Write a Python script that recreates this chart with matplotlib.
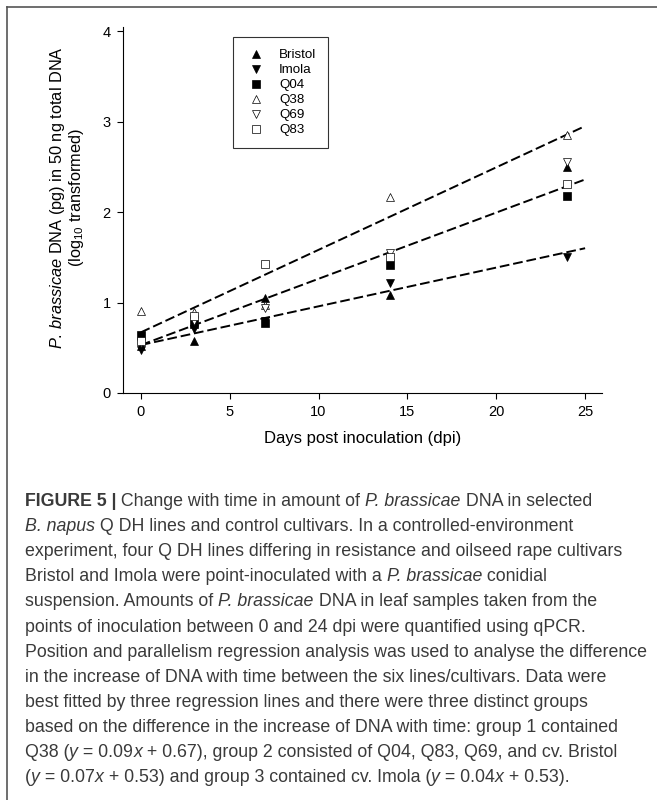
import numpy as np
import matplotlib
matplotlib.use('Agg')
import matplotlib.pyplot as plt
from matplotlib.lines import Line2D

plt.rcParams['font.family'] = ['Liberation Sans', 'DejaVu Sans']
plt.rcParams['mathtext.fontset'] = 'custom'
plt.rcParams['mathtext.rm'] = 'Liberation Sans'
plt.rcParams['mathtext.it'] = 'Liberation Sans:italic'
plt.rcParams['mathtext.bf'] = 'Liberation Sans:bold'

# sampling days
days = [0, 3, 7, 14, 24]

# log10 DNA
bristol = [0.52, 0.57, 1.05, 1.08, 2.50]
imola = [0.48, 0.71, 0.80, 1.22, 1.50]
q04 = [0.64, 0.76, 0.77, 1.42, 2.18]
q38 = [0.91, 0.89, 0.97, 2.17, 2.85]
q69 = [0.55, 0.80, 0.94, 1.55, 2.55]
q83 = [0.57, 0.85, 1.43, 1.50, 2.31]

names = ['Bristol', 'Imola', 'Q04', 'Q38', 'Q69', 'Q83']
series = [bristol, imola, q04, q38, q69, q83]
markers = ['^', 'v', 's', '^', 'v', 's']
filled = [True, True, True, False, False, False]

# fitted regression lines (value at x=0 and x=25)
fit_x = [0, 25]
fit_group1 = [0.67, 2.95]
fit_group2 = [0.53, 2.36]
fit_group3 = [0.53, 1.60]

xticks = [0, 5, 10, 15, 20, 25]
yticks = [0, 1, 2, 3, 4]

# caption: each line is a list of (text, style) pieces, n=normal i=italic b=bold
caption = [
    [('FIGURE 5 |', 'b'), (' Change with time in amount of ', 'n'), ('P. brassicae', 'i'),
     (' DNA in selected', 'n')],
    [('B. napus', 'i'), (' Q DH lines and control cultivars. In a controlled-environment', 'n')],
    [('experiment, four Q DH lines differing in resistance and oilseed rape cultivars', 'n')],
    [('Bristol and Imola were point-inoculated with a ', 'n'), ('P. brassicae', 'i'),
     (' conidial', 'n')],
    [('suspension. Amounts of ', 'n'), ('P. brassicae', 'i'),
     (' DNA in leaf samples taken from the', 'n')],
    [('points of inoculation between 0 and 24 dpi were quantified using qPCR.', 'n')],
    [('Position and parallelism regression analysis was used to analyse the difference', 'n')],
    [('in the increase of DNA with time between the six lines/cultivars. Data were', 'n')],
    [('best fitted by three regression lines and there were three distinct groups', 'n')],
    [('based on the difference in the increase of DNA with time: group 1 contained', 'n')],
    [('Q38 (', 'n'), ('y', 'i'), (' = 0.09', 'n'), ('x', 'i'),
     (' + 0.67), group 2 consisted of Q04, Q83, Q69, and cv. Bristol', 'n')],
    [('(', 'n'), ('y', 'i'), (' = 0.07', 'n'), ('x', 'i'),
     (' + 0.53) and group 3 contained cv. Imola (', 'n'), ('y', 'i'), (' = 0.04', 'n'),
     ('x', 'i'), (' + 0.53).', 'n')],
]

fig = plt.figure(figsize=(6.57, 8.0), dpi=100)
ax = fig.add_axes([123/657, 1 - 393/800, 479/657, 366/800])

for fy in [fit_group1, fit_group2, fit_group3]:
    ax.plot(fit_x, fy, color='black', lw=1.4, linestyle=(0, (5, 2)), zorder=2)

handles = []
for name, vals, m, f in zip(names, series, markers, filled):
    fc = 'black' if f else 'white'
    ms = 5.2 if m == 's' else 6.0
    ax.plot(days, vals, linestyle='none', marker=m, markersize=ms,
            markerfacecolor=fc, markeredgecolor='black', markeredgewidth=0.5, zorder=3)
    handles.append(Line2D([], [], linestyle='none', marker=m, markersize=ms,
                          markerfacecolor=fc, markeredgecolor='black', markeredgewidth=0.5,
                          label=name))

ax.set_xlim(-1.0, 25.95)
ax.set_ylim(0, 4.045)
ax.set_xticks(xticks)
ax.set_yticks(yticks)
ax.tick_params(direction='out', length=4, width=0.8, labelsize=10.5, pad=5)
ax.spines['top'].set_visible(False)
ax.spines['right'].set_visible(False)
for s in ['left', 'bottom']:
    ax.spines[s].set_linewidth(0.8)

ax.set_xlabel('Days post inoculation (dpi)', fontsize=12, labelpad=8)
ax.set_ylabel(r'$\mathit{P.\,brassicae}$ DNA (pg) in 50 ng total DNA' + '\n'
              + r'(log$_{10}$ transformed)', fontsize=11.8, linespacing=1.0)
ax.yaxis.set_label_coords(-0.078, 0.535)

leg = ax.legend(handles=handles, loc='upper left', bbox_to_anchor=(0.2296, 0.9727),
                borderaxespad=0, fontsize=9.6, frameon=True, fancybox=False,
                labelspacing=0.2, handletextpad=0.9, handlelength=1.65,
                borderpad=0.9)
leg.get_frame().set_edgecolor('black')
leg.get_frame().set_linewidth(0.8)

# page border (top and left only)
fig.add_artist(Line2D([7/657, 1], [1 - 7/800, 1 - 7/800], color='#555555', lw=1.2,
                      transform=fig.transFigure))
fig.add_artist(Line2D([7/657, 7/657], [0, 1 - 7/800], color='#555555', lw=1.2,
                      transform=fig.transFigure))

renderer = fig.canvas.get_renderer()
cap_kw = dict(fontsize=12.8, color='#3a3a3a', ha='left', va='baseline', parse_math=False)
styles = {'n': {}, 'i': {'fontstyle': 'italic'}, 'b': {'fontweight': 'bold'}}


def text_width(s, style):
    # measure with a guard glyph so edge spaces are counted
    t = fig.text(0, 0, '|' + s + '|', **cap_kw, **styles[style])
    w = t.get_window_extent(renderer).width
    t.remove()
    g = fig.text(0, 0, '||', **cap_kw, **styles[style])
    wg = g.get_window_extent(renderer).width
    g.remove()
    return w - wg


y0 = 506
for i, parts in enumerate(caption):
    x = 25.0
    ypx = 800 - (y0 + i * 25.1)
    for s, st in parts:
        fig.text(x / 657, ypx / 800, s, **cap_kw, **styles[st])
        x += text_width(s, st)

fig.savefig('out.png', dpi=100)
